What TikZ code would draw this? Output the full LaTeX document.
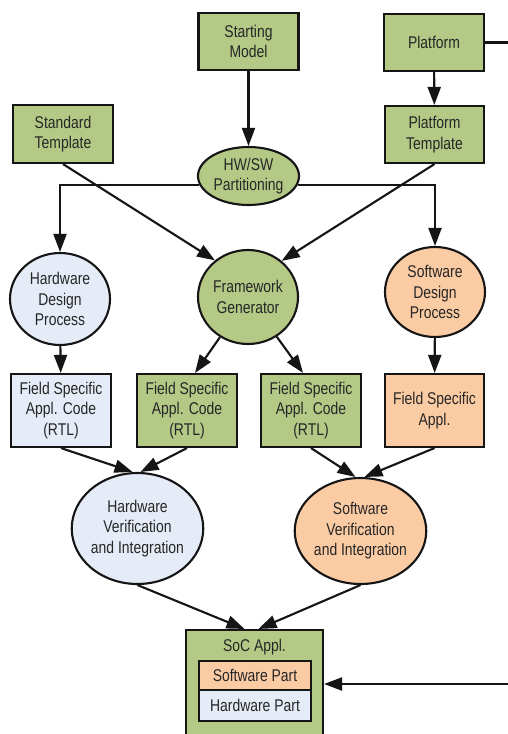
\documentclass[tikz,border=0pt]{standalone}
\usepackage{fontspec}
\setmainfont[FakeStretch=0.82]{Liberation Sans}
\usetikzlibrary{arrows.meta,shapes.geometric}
\definecolor{grn}{HTML}{B5C986}
\definecolor{blu}{HTML}{E5ECF7}
\definecolor{org}{HTML}{FBCBA4}
\definecolor{ln}{HTML}{151515}
\definecolor{txt}{HTML}{262626}
\begin{document}
\begin{tikzpicture}[x=1pt,y=-1pt,
  every node/.style={font=\fontsize{17}{20.5}\selectfont, align=center, inner sep=0pt, text=txt},
  bx/.style={draw=ln, line width=2.1pt, rectangle, minimum width=100pt, minimum height=57pt},
  el/.style={draw=ln, line width=2.1pt, ellipse, minimum width=100pt},
  conn/.style={draw=ln, line width=2.1pt, -{Triangle[length=18pt,width=13pt]}},
  stub/.style={draw=ln, line width=2.1pt}]
\useasboundingbox (0,0) rectangle (507,734);
\fill[white] (0,0) rectangle (507,734);
% top row
\node[bx, fill=grn] (sm) at (248.5,41.5) {Starting\\Model};
\node[bx, fill=grn] (plat) at (434,42.5) {Platform};
\node[bx, fill=grn, minimum width=99pt] (ptpl) at (434.5,134.5) {Platform\\Template};
\node[bx, fill=grn, minimum height=58pt] (stpl) at (63,134) {Standard\\Template};
\node[el, fill=grn, minimum width=101pt, minimum height=58pt] (hwsw) at (248.5,176) {HW/SW\\Partitioning};
% design processes
\node[el, fill=blu, minimum height=92pt] (hdp) at (60,299) {Hardware\\Design\\Process};
\node[el, fill=grn, minimum height=94pt] (fw) at (248,297) {Framework\\Generator};
\node[el, fill=org, minimum height=90pt] (sdp) at (435,292) {Software\\Design\\Process};
% field specific boxes
\node[bx, fill=blu, minimum height=73pt] (b1) at (61,410.5) {Field Specific\\Appl. Code\\(RTL)};
\node[bx, fill=grn, minimum height=73pt] (b2) at (187,410.5) {Field Specific\\Appl. Code\\(RTL)};
\node[bx, fill=grn, minimum height=73pt] (b3) at (311,410.5) {Field Specific\\Appl. Code\\(RTL)};
\node[bx, fill=org, minimum height=73pt, minimum width=99pt] (b4) at (434.5,410.5) {Field Specific\\Appl.};
% verification
\node[el, fill=blu, minimum width=125pt, minimum height=111pt] (hwv) at (137.5,528.5) {Hardware\\Verification\\and Integration};
\node[el, fill=org, minimum width=125pt, minimum height=106pt] (swv) at (360.5,531) {Software\\Verification\\and Integration};
% SoC
\node[bx, fill=grn, minimum width=137pt, minimum height=140pt] (soc) at (254.5,700) {};
\node (soclbl) at (254.5,647) {SoC Appl.};
\node[draw=ln, line width=2.1pt, fill=org, minimum width=112pt, minimum height=29pt] (swp) at (255,675.5) {Software Part};
\node[draw=ln, line width=2.1pt, fill=blu, minimum width=112pt, minimum height=31pt] (hwp) at (255,705.5) {Hardware Part};
% connectors
\draw[conn] (sm) -- (hwsw);
\draw[conn] (plat) -- (ptpl);
\draw[conn] (hwsw.190) -| (hdp.north);
\draw[conn] (hwsw.-10) -| (sdp.north);
\draw[conn] (stpl.south) -- (fw.132);
\draw[conn] (ptpl.south) -- (fw.47);
\draw[conn] (hdp) -- (b1);
\draw[conn] (fw) -- ([xshift=8pt]b2.north);
\draw[conn] (fw) -- ([xshift=-8pt]b3.north);
\draw[conn] (sdp) -- (b4);
\draw[conn] (b1.south) -- ([xshift=-5pt]hwv.north);
\draw[conn] (b2.south) -- ([xshift=3pt]hwv.north);
\draw[conn] (b3.south) -- ([xshift=-5pt]swv.north);
\draw[conn] (b4.south) -- ([xshift=4pt]swv.north);
\draw[conn] (hwv.south) -- ([xshift=-10pt]soc.north);
\draw[conn] (swv.south) -- ([xshift=4pt]soc.north);
\coordinate (edgetop) at (509,42.5);
\coordinate (edgebot) at (509,684);
\draw[stub] (plat.east) -- (edgetop);
\draw[conn] (edgebot) -- (soc.east |- edgebot);
\end{tikzpicture}
\end{document}
